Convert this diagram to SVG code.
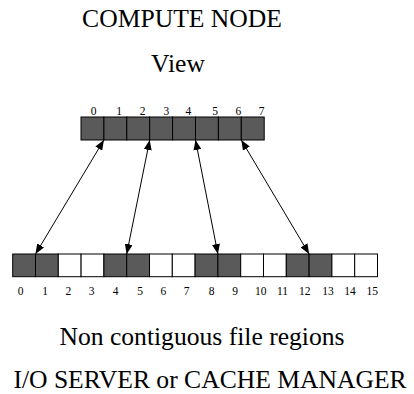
<svg xmlns="http://www.w3.org/2000/svg" width="414" height="394" viewBox="0 0 414 394">
<style>
.t{font-family:"Liberation Serif","Times New Roman",serif;fill:#000}
.big{font-size:25.6px;text-anchor:middle}
.num{font-size:11.5px;text-anchor:middle}
.d{fill:#5a5a5a;stroke:#000;stroke-width:1}
.w{fill:#fff;stroke:#000;stroke-width:1}
.c{stroke:#000;stroke-width:1;fill:none;marker-start:url(#ah);marker-end:url(#ah)}
</style>
<defs>
<marker id="ah" viewBox="0 0 10 8" refX="10" refY="4" markerWidth="10" markerHeight="8" markerUnits="userSpaceOnUse" orient="auto-start-reverse">
<path d="M0,0 L10,4 L0,8 Z" fill="#000"/>
</marker>
</defs>
<rect width="414" height="394" fill="#fff"/>
<g id="title"><text class="t big" x="182" y="26.7">COMPUTE NODE</text></g>
<g id="view-label"><text class="t big" x="178" y="71.7">View</text></g>
<g id="view">
<rect class="d" x="81" y="117" width="22.9" height="23"/>
<rect class="d" x="103.9" y="117" width="22.9" height="23"/>
<rect class="d" x="126.8" y="117" width="22.9" height="23"/>
<rect class="d" x="149.7" y="117" width="22.9" height="23"/>
<rect class="d" x="172.6" y="117" width="22.9" height="23"/>
<rect class="d" x="195.5" y="117" width="22.9" height="23"/>
<rect class="d" x="218.4" y="117" width="22.9" height="23"/>
<rect class="d" x="241.3" y="117" width="22.9" height="23"/>
<text class="t num" x="93.7" y="115">0</text>
<text class="t num" x="119.2" y="115">1</text>
<text class="t num" x="142.7" y="115">2</text>
<text class="t num" x="166.3" y="115">3</text>
<text class="t num" x="188.3" y="115">4</text>
<text class="t num" x="215" y="115">5</text>
<text class="t num" x="238.3" y="115">6</text>
<text class="t num" x="261.7" y="115">7</text>
</g>
<g id="file">
<rect class="d" x="12.7" y="254" width="22.8" height="22.7"/>
<rect class="d" x="35.5" y="254" width="22.8" height="22.7"/>
<rect class="w" x="58.3" y="254" width="22.8" height="22.7"/>
<rect class="w" x="81.1" y="254" width="22.8" height="22.7"/>
<rect class="d" x="103.9" y="254" width="22.8" height="22.7"/>
<rect class="d" x="126.7" y="254" width="22.8" height="22.7"/>
<rect class="w" x="149.5" y="254" width="22.8" height="22.7"/>
<rect class="w" x="172.3" y="254" width="22.8" height="22.7"/>
<rect class="d" x="195.1" y="254" width="22.8" height="22.7"/>
<rect class="d" x="217.9" y="254" width="22.8" height="22.7"/>
<rect class="w" x="240.7" y="254" width="22.8" height="22.7"/>
<rect class="w" x="263.5" y="254" width="22.8" height="22.7"/>
<rect class="d" x="286.3" y="254" width="22.8" height="22.7"/>
<rect class="d" x="309.1" y="254" width="22.8" height="22.7"/>
<rect class="w" x="331.9" y="254" width="22.8" height="22.7"/>
<rect class="w" x="354.7" y="254" width="22.8" height="22.7"/>
<text class="t num" x="20.7" y="295">0</text>
<text class="t num" x="45" y="295">1</text>
<text class="t num" x="68.3" y="295">2</text>
<text class="t num" x="91.7" y="295">3</text>
<text class="t num" x="115.5" y="295">4</text>
<text class="t num" x="140" y="295">5</text>
<text class="t num" x="163.3" y="295">6</text>
<text class="t num" x="186.7" y="295">7</text>
<text class="t num" x="211.7" y="295">8</text>
<text class="t num" x="235" y="295">9</text>
<text class="t num" x="260.8" y="295">10</text>
<text class="t num" x="282.5" y="295">11</text>
<text class="t num" x="304.7" y="295">12</text>
<text class="t num" x="328" y="295">13</text>
<text class="t num" x="350" y="295">14</text>
<text class="t num" x="372.3" y="295">15</text>
</g>
<g id="connectors">
<line class="c" x1="103.9" y1="140" x2="35.5" y2="254"/>
<line class="c" x1="149.7" y1="140" x2="126.7" y2="254"/>
<line class="c" x1="195.5" y1="140" x2="217.9" y2="254"/>
<line class="c" x1="241.3" y1="140" x2="309.1" y2="254"/>
</g>
<g id="caption"><text class="t big" x="202" y="345">Non contiguous file regions</text></g>
<g id="server"><text class="t big" x="210" y="388">I/O SERVER or CACHE MANAGER</text></g>
</svg>
